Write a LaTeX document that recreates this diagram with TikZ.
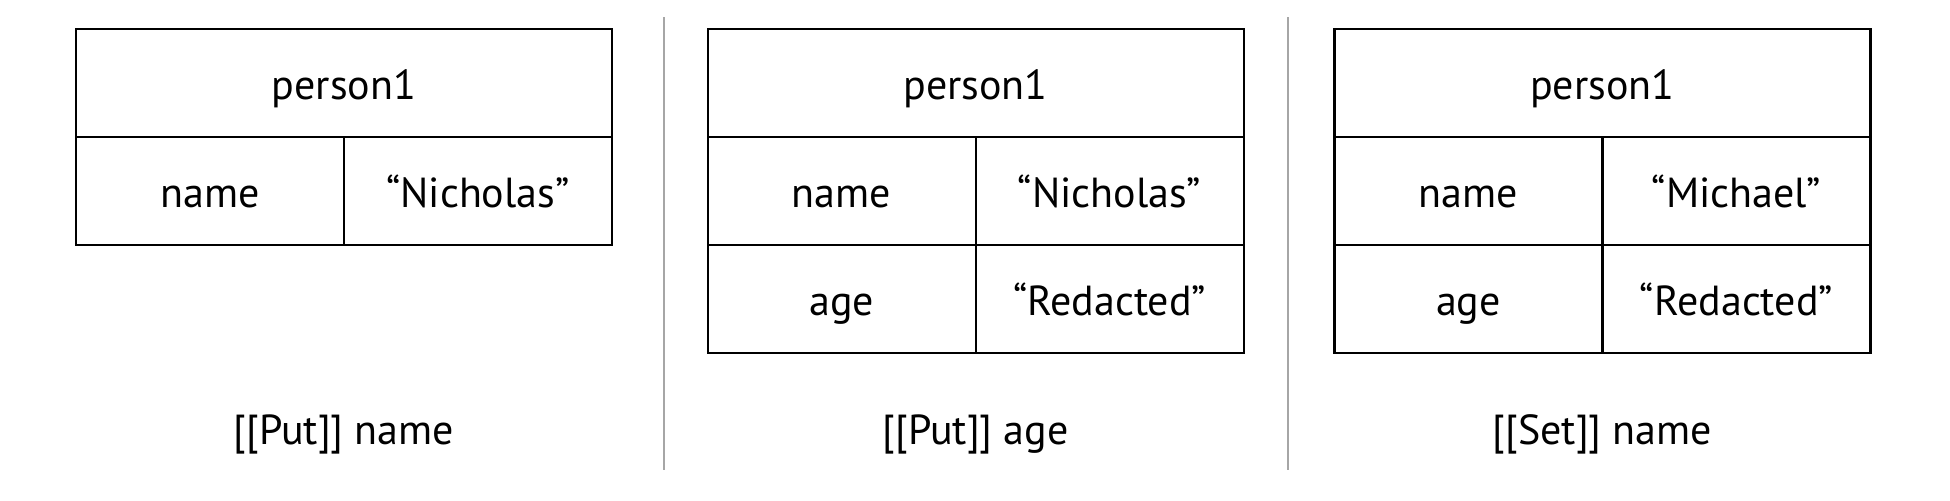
\documentclass[tikz,border=0pt]{standalone}
\usepackage{fontspec}
\setmainfont{PT Sans}
\begin{document}
\begin{tikzpicture}[x=0.5pt,y=-0.5pt,
  cell/.style={draw=black,line width=1.1pt,minimum width=134pt,minimum height=54.1pt,inner sep=0pt,text height=17pt,text depth=0.2pt,font=\fontsize{21}{24}\selectfont},
  head/.style={cell,minimum width=268pt},
  sep/.style={draw=black!35,line width=1pt},
  caption/.style={anchor=base,inner sep=0pt,font=\fontsize{21}{24}\selectfont}]
\useasboundingbox (0,0) rectangle (1950,500);
% table 1
\node[head] (h1) at (343.9,82.7) {person1};
\node[cell] (n1k) at (209.9,190.9) {name};
\node[cell] (n1v) at (477.9,190.9) {“Nicholas”};
\node[caption] (c1) at (343.9,444) {[[Put]] name};
% separator 1
\coordinate (s1a) at (664,17);
\coordinate (s1b) at (664,470);
\draw[sep] (s1a) -- (s1b);
% table 2
\node[head] (h2) at (975.6,82.7) {person1};
\node[cell] (n2k) at (841.6,190.9) {name};
\node[cell] (n2v) at (1109.6,190.9) {“Nicholas”};
\node[cell] (a2k) at (841.6,299) {age};
\node[cell] (a2v) at (1109.6,299) {“Redacted”};
\node[caption] (c2) at (975.6,444) {[[Put]] age};
% separator 2
\coordinate (s2a) at (1288.4,17);
\coordinate (s2b) at (1288.4,470);
\draw[sep] (s2a) -- (s2b);
% table 3
\node[head] (h3) at (1602.4,82.7) {person1};
\node[cell] (n3k) at (1468.4,190.9) {name};
\node[cell] (n3v) at (1736.4,190.9) {“Michael”};
\node[cell] (a3k) at (1468.4,299) {age};
\node[cell] (a3v) at (1736.4,299) {“Redacted”};
\node[caption] (c3) at (1602.4,444) {[[Set]] name};
\end{tikzpicture}
\end{document}
